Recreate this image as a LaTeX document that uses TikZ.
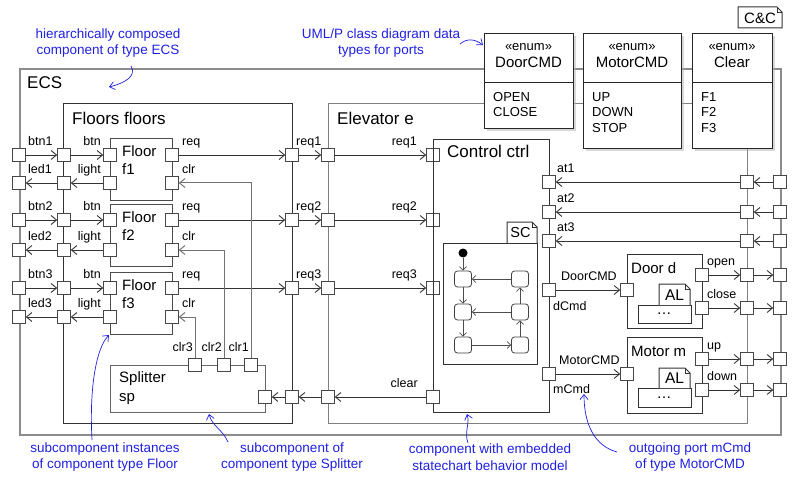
\documentclass[tikz,border=0pt]{standalone}
\usepackage{fontspec}
\setmainfont{Liberation Sans}
\usetikzlibrary{arrows.meta,shadows}
\definecolor{annoblue}{RGB}{32,32,224}
\begin{document}
\begin{tikzpicture}[x=1pt,y=-1pt,
 port/.style={draw=black!72, fill=white, minimum size=12.5pt, inner sep=0pt, line width=1pt},
 plbl/.style={font=\fontsize{12.5}{14}\selectfont, inner sep=0pt},
 head/.style={font=\fontsize{17}{20}\selectfont, inner sep=0pt, anchor=base west},
 bname/.style={font=\fontsize{15}{18}\selectfont, inner sep=0pt, anchor=base west},
 arr/.style={draw=black!80, line width=0.9pt, -{Straight Barb[length=5.5pt,width=9pt]}},
 garr/.style={draw=black!55, line width=1pt, -{Straight Barb[length=5.5pt,width=9pt]}},
 cbox/.style={draw=black!80, line width=1pt, inner sep=0pt, anchor=north west},
 gbox/.style={draw=black!50, line width=1.2pt, inner sep=0pt, anchor=north west},
 enumbox/.style={draw=black!85, fill=white, line width=1pt, inner sep=0pt, anchor=north west,
   drop shadow={shadow xshift=2.5pt, shadow yshift=-2.5pt, fill=black!30}},
 etxt/.style={font=\fontsize{13}{15}\selectfont, inner sep=0pt},
 state/.style={draw=black!75, fill=white, rounded corners=3pt, minimum width=17pt, minimum height=16pt, inner sep=0pt, line width=0.8pt},
 sarr/.style={draw=black!70, line width=0.7pt, -{Straight Barb[length=3.5pt,width=7pt]}},
 note/.style={draw=black!80, line width=1pt, fill=white},
 anno/.style={font=\fontsize{13.5}{16.4}\selectfont, text=annoblue, align=center, inner sep=0pt},
 annoarr/.style={draw=annoblue, line width=0.7pt, -{Straight Barb[length=5pt,width=8pt]}},
]
\useasboundingbox (0,0) rectangle (800,481);

% ---------- frames ----------
\node[gbox, draw=black!45, line width=1.8pt, minimum width=761pt, minimum height=366pt] (ecs) at (19,68) {};
\node[cbox, minimum width=229pt, minimum height=320pt] (floors) at (63,103) {};
\node[gbox, minimum width=419pt, minimum height=320pt] (elev) at (328,103) {};
\node[head] (tecs) at (27,89) {ECS};
\node[head] (tfloors) at (72,125) {Floors floors};
\node[head] (telev) at (337,125) {Elevator e};

% ---------- enums ----------
\node[enumbox, minimum width=89pt, minimum height=95pt] (edoor) at (484,33) {};
\node[enumbox, minimum width=98pt, minimum height=115pt] (emotor) at (583,33) {};
\node[enumbox, minimum width=80pt, minimum height=115pt] (eclear) at (692,33) {};
\draw[black!85, line width=1pt] (484,83) -- (573,83) (583,83) -- (681,83) (692,83) -- (772,83);
\node[etxt, anchor=base] (sdoor) at (528.5,51) {«enum»};
\node[etxt, anchor=base] (smotor) at (632,51) {«enum»};
\node[etxt, anchor=base] (sclear) at (732,51) {«enum»};
\node[font=\fontsize{15}{18}\selectfont, inner sep=0pt, anchor=base] (ndoor) at (528.5,68) {DoorCMD};
\node[font=\fontsize{15}{18}\selectfont, inner sep=0pt, anchor=base] (nmotor) at (632,68) {MotorCMD};
\node[font=\fontsize{15}{18}\selectfont, inner sep=0pt, anchor=base] (nclear) at (732,68) {Clear};
\node[etxt, anchor=base west] (iopen) at (493,101.4) {OPEN};
\node[etxt, anchor=base west] (iclose) at (493,117) {CLOSE};
\node[etxt, anchor=base west] (iup) at (592,101.4) {UP};
\node[etxt, anchor=base west] (idown) at (592,117) {DOWN};
\node[etxt, anchor=base west] (istop) at (592,132.4) {STOP};
\node[etxt, anchor=base west] (if1) at (701,101.4) {F1};
\node[etxt, anchor=base west] (if2) at (701,117) {F2};
\node[etxt, anchor=base west] (if3) at (701,132.4) {F3};

% ---------- C&C note ----------
\draw[note] (738,7) -- (777,7) -- (782,12) -- (782,28) -- (738,28) -- cycle;
\draw[black!80, line width=0.6pt] (777,7) -- (777,12) -- (782,12);
\node[bname, anchor=center] (tcc) at (760,18.5) {C\&C};

% ---------- Floors ----------
\foreach \i/\yb/\yl/\ft in {1/155/183/138,2/220/250/204,3/288/317/272}{
  \node[cbox, draw=black!70, minimum width=62pt, minimum height=62pt] (fbox\i) at (110,\ft) {};
  \node[bname] (tfl\i) at (122,{\ft+18.4}) {Floor};
  \node[bname] (tfn\i) at (122,{\ft+36.4}) {f\i};
  \node[port] (eb\i) at (19,\yb) {};
  \node[port] (el\i) at (19,\yl) {};
  \node[port] (fb\i) at (64,\yb) {};
  \node[port] (fl\i) at (64,\yl) {};
  \node[port] (fbtn\i) at (110,\yb) {};
  \node[port] (flight\i) at (110,\yl) {};
  \node[port] (freq\i) at (172,\yb) {};
  \node[port] (fclr\i) at (172,\yl) {};
  \node[port] (fr\i) at (292,\yb) {};
  \node[port] (er\i) at (328,\yb) {};
  \node[port] (cr\i) at (433,\yb) {};
  \node[plbl, anchor=base west] (lbtn\i) at (28,{\yb-9.5}) {btn\i};
  \node[plbl, anchor=base west] (lled\i) at (28,{\yl-9.5}) {led\i};
  \node[plbl, anchor=base east] (lb\i) at (101,{\yb-9.5}) {btn};
  \node[plbl, anchor=base east] (ll\i) at (101,{\yl-9.5}) {light};
  \node[plbl, anchor=base west] (lq\i) at (182,{\yb-9.5}) {req};
  \node[plbl, anchor=base west] (lc\i) at (182,{\yl-9.5}) {clr};
  \node[plbl, anchor=base west] (lfr\i) at (296,{\yb-9.5}) {req\i};
  \node[plbl, anchor=base east] (lcr\i) at (417,{\yb-9.5}) {req\i};
  \draw[arr] (eb\i) -- (fb\i);
  \draw[arr] (fb\i) -- (fbtn\i);
  \draw[arr] (flight\i) -- (fl\i);
  \draw[arr] (fl\i) -- (el\i);
  \draw[arr] (freq\i) -- (fr\i);
  \draw[arr] (fr\i) -- (er\i);
  \draw[arr] (er\i) -- (cr\i);
}

% ---------- Splitter ----------
\node[cbox, draw=black!60, minimum width=155pt, minimum height=47pt] (split) at (110,365) {};
\node[bname] (tsplit) at (119,382) {Splitter};
\node[bname] (tsp) at (119,401) {sp};
\node[port] (sc3) at (195,365) {};
\node[port] (sc2) at (224,365) {};
\node[port] (sc1) at (251,365) {};
\node[port] (spin) at (265,397) {};
\node[plbl, anchor=base east] (lsc3) at (193,351.5) {clr3};
\node[plbl, anchor=base east] (lsc2) at (222,351.5) {clr2};
\node[plbl, anchor=base east] (lsc1) at (249,351.5) {clr1};
\draw[garr] (sc1) |- (fclr1);
\draw[garr] (sc2) |- (fclr2);
\draw[garr] (sc3) |- (fclr3);

% ---------- Control ----------
\node[cbox, minimum width=116pt, minimum height=273pt] (ctrl) at (433,139) {};
\node[head] (tctrl) at (447,158) {Control ctrl};
\node[port] (fcl) at (292,397) {};
\node[port] (ecl) at (328,397) {};
\node[port] (ccl) at (433,397) {};
\node[plbl, anchor=base east] (lclear) at (418,387.5) {clear};
\draw[arr] (ccl) -- (ecl);
\draw[arr] (ecl) -- (fcl);
\draw[arr] (fcl) -- (spin);

% statechart
\draw[black!80, line width=1pt, fill=white] (507,243) -- (507,222) -- (532,222) -- (537,227) -- (537,243);
\draw[black!80, line width=0.6pt] (532,222) -- (532,227) -- (537,227);
\node[font=\fontsize{14.5}{17}\selectfont, inner sep=0pt] (tsc) at (520.5,233) {SC};
\node[cbox, minimum width=94pt, minimum height=121pt] (scbox) at (443,243) {};
\node[circle, fill=black, minimum size=9pt, inner sep=0pt] (init) at (463,253) {};
\node[state] (s11) at (463,279) {};
\node[state] (s12) at (463,312) {};
\node[state] (s13) at (463,345) {};
\node[state] (s21) at (520,279) {};
\node[state] (s22) at (520,312) {};
\node[state] (s23) at (520,345) {};
\draw[sarr] (init) -- (s11);
\draw[sarr] (s11) -- (s12);
\draw[sarr] (s12) -- (s13);
\draw[sarr] (s13) -- (s23);
\draw[sarr] (s23) -- (s22);
\draw[sarr] (s22) -- (s21);
\draw[sarr] (s21) -- (s11);
\draw[sarr] (s22) -- (s12);

% ---------- Door / Motor ----------
\node[cbox, minimum width=75pt, minimum height=74pt] (door) at (627,254) {};
\node[bname] (tdoor) at (631,273) {Door d};
\node[cbox, minimum width=75pt, minimum height=76pt] (motor) at (627,337) {};
\node[bname] (tmotor) at (631,356) {Motor m};
\node[cbox, minimum width=53pt, minimum height=18pt] (ddots) at (638,305) {};
\node[inner sep=0pt, font=\fontsize{15}{16}\selectfont] (tddots) at (664,314) {\ldots};
\draw[note] (659,305) -- (659,284) -- (685,284) -- (690,289) -- (690,305);
\draw[black!80, line width=0.6pt] (685,284) -- (685,289) -- (690,289);
\node[font=\fontsize{15.5}{18}\selectfont, inner sep=0pt] (tdal) at (674.5,295) {AL};
\node[cbox, minimum width=53pt, minimum height=19pt] (mdots) at (638,388) {};
\node[inner sep=0pt, font=\fontsize{15}{16}\selectfont] (tmdots) at (664,397.5) {\ldots};
\draw[note] (659,388) -- (659,368) -- (685,368) -- (690,373) -- (690,388);
\draw[black!80, line width=0.6pt] (685,368) -- (685,373) -- (690,373);
\node[font=\fontsize{15.5}{18}\selectfont, inner sep=0pt] (tmal) at (674.5,378.5) {AL};

\node[port] (cdc) at (549,290) {};
\node[port] (cmc) at (549,374) {};
\node[port] (din) at (627,290) {};
\node[port] (min) at (627,374) {};
\node[plbl, anchor=base west] (ldcmdt) at (561,280.5) {DoorCMD};
\node[plbl, anchor=base west] (ldcmd) at (553,310) {dCmd};
\node[plbl, anchor=base west] (lmcmdt) at (559,364.5) {MotorCMD};
\node[plbl, anchor=base west] (lmcmd) at (553,393.5) {mCmd};
\draw[arr] (cdc) -- (din);
\draw[arr] (cmc) -- (min);

% at ports
\foreach \n/\y in {1/182,2/212,3/241}{
  \node[port] (cat\n) at (549,\y) {};
  \node[port] (eat\n) at (747,\y) {};
  \node[port] (xat\n) at (780,\y) {};
  \node[plbl, anchor=base west] (lat\n) at (557,{\y-9.5}) {at\n};
  \draw[arr] (xat\n) -- (eat\n);
  \draw[arr] (eat\n) -- (cat\n);
}
% outputs
\foreach \n/\y/\t in {open/275/open,close/308/close,up/359/up,down/390/down}{
  \node[port] (o\n) at (702,\y) {};
  \node[port] (eo\n) at (747,\y) {};
  \node[port] (xo\n) at (780,\y) {};
  \node[plbl, anchor=base west] (lo\n) at (707,{\y-9.5}) {\t};
  \draw[arr] (o\n) -- (eo\n);
  \draw[arr] (eo\n) -- (xo\n);
}

% ---------- annotations ----------
\node[anno] (a1) at (108,43) {hierarchically composed\\component of type ECS};
\coordinate (a1s) at (131,66); \coordinate (a1e) at (109,87);
\draw[annoarr] (a1s) .. controls (137,76) and (125,83) .. (a1e);
\node[anno] (a2) at (381,43) {UML/P class diagram data\\types for ports};
\coordinate (a2s) at (460,44); \coordinate (a2e) at (483,45);
\draw[annoarr] (a2s) .. controls (467,38) and (475,39) .. (a2e);
\node[anno] (b1) at (105,457) {subcomponent instances\\of component type Floor};
\coordinate (b1s) at (92,440); \coordinate (b1e) at (109,335);
\draw[annoarr] (b1s) .. controls (89,385) and (97,347) .. (b1e);
\node[anno] (b2) at (292,457) {subcomponent of\\component type Splitter};
\coordinate (b2s) at (228,442); \coordinate (b2e) at (209,414);
\draw[annoarr] (b2s) .. controls (223,430) and (212,426) .. (b2e);
\node[anno] (b3) at (490,457) {component with embedded\\statechart behavior model};
\coordinate (b3s) at (468,443); \coordinate (b3e) at (467,414);
\draw[annoarr] (b3s) .. controls (464,432) and (470,424) .. (b3e);
\node[anno] (b4) at (690,457) {outgoing port mCmd\\of type MotorCMD};
\coordinate (b4s) at (617,452); \coordinate (b4e) at (584,394);
\draw[annoarr] (b4s) .. controls (595,446) and (584,425) .. (b4e);
\end{tikzpicture}
\end{document}
